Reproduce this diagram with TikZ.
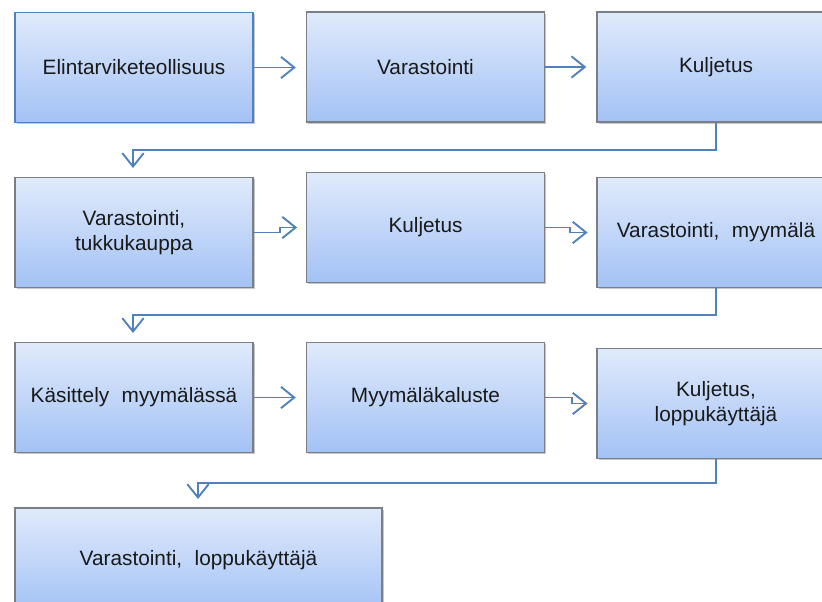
\documentclass[tikz,border=0pt]{standalone}
\usepackage{fontspec}
\setmainfont{Liberation Sans}
\usetikzlibrary{arrows.meta,shadows}
\definecolor{boxtop}{RGB}{224,234,251}
\definecolor{boxbot}{RGB}{163,194,245}
\definecolor{boxgray}{RGB}{122,127,134}
\definecolor{arrblue}{RGB}{79,129,189}
\tikzset{
  box/.style={draw=boxgray, line width=1.1pt, top color=boxtop, bottom color=boxbot,
    minimum width=178.5pt, minimum height=82.5pt, inner sep=2pt, align=center,
    font=\fontsize{15.6pt}{18.75pt}\selectfont, text=black!90,
    drop shadow={shadow xshift=1.2pt, shadow yshift=-1.5pt, opacity=0.22, fill=black}},
  firstbox/.style={box, draw=arrblue},
  conn/.style={draw=arrblue, line width=1.4pt,
    -{Straight Barb[length=10pt, width=16pt, line width=1.4pt]}},
}
\begin{document}
\begin{tikzpicture}[x=0.75pt, y=-0.75pt]
\useasboundingbox (0,0) rectangle (822,602);
\clip (0,0) rectangle (822,602);
\fill[white] (0,0) rectangle (822,602);
% row 1
\node[firstbox] (A) at (134,67.5) {Elintarviketeollisuus};
\node[box] (B) at (425.5,67) {Varastointi};
\node[box] (C) at (716,67) {Kuljetus};
% row 2
\node[box] (D) at (134,232.5) {Varastointi,\\tukkukauppa};
\node[box] (E) at (425.5,227.5) {Kuljetus};
\node[box] (F) at (716,232.5) {Varastointi,\hspace{0.6em}myymälä};
% row 3
\node[box] (G) at (134,397.5) {Käsittely\hspace{0.6em}myymälässä};
\node[box] (H) at (425.5,397.5) {Myymäläkaluste};
\node[box] (I) at (716,403.5) {Kuljetus,\\loppukäyttäjä};
% row 4
\node[box, minimum width=275.25pt, minimum height=78pt] (J) at (198.5,560) {Varastointi,\hspace{0.6em}loppukäyttäjä};
% turn points
\coordinate (t1) at (133,150);
\coordinate (d-in) at (133,168);
\coordinate (t2) at (133,315);
\coordinate (g-in) at (133,333);
\coordinate (t3) at (198,483);
\coordinate (j-in) at (198,499);
% horizontal connectors
\draw[conn] (A.east) -- ([xshift=-7.5pt]B.west |- A.east);
\draw[conn] (B.east) -- ([xshift=-7.5pt]C.west);
\draw[conn] (D.east) -- ++(26,0) |- ([xshift=-6.5pt]E.west);
\draw[conn] (E.east) -- ++(25,0) |- ([xshift=-6.5pt]F.west);
\draw[conn] (G.east) -- ([xshift=-7.5pt]H.west);
\draw[conn] (H.east) -- ++(27,0) |- ([xshift=-6.5pt]I.west);
% row-change connectors
\draw[conn] (C.south) |- (t1) -- (d-in);
\draw[conn] (F.south) |- (t2) -- (g-in);
\draw[conn] (I.south) |- (t3) -- (j-in);
\end{tikzpicture}
\end{document}
